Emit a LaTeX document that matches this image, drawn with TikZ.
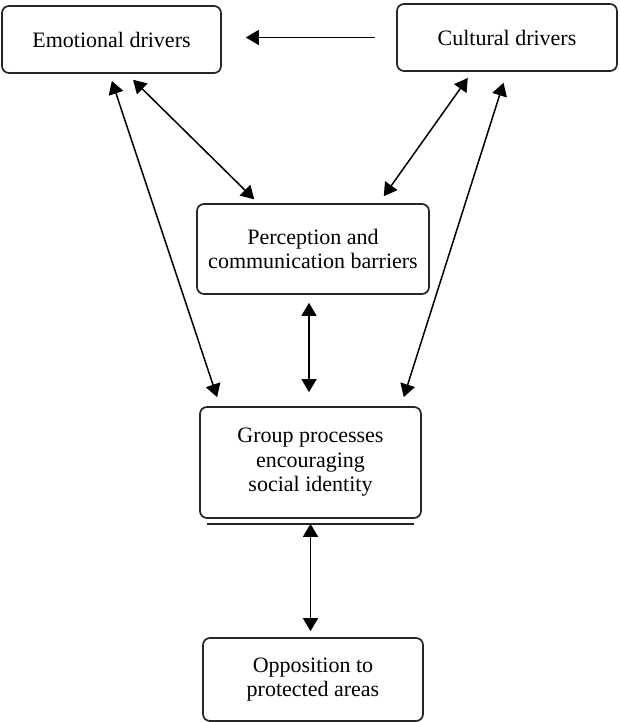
\documentclass[tikz,border=0pt]{standalone}
\usepackage{fontspec}
\setmainfont{Liberation Serif}
\usetikzlibrary{arrows.meta, calc}

\begin{document}
\begin{tikzpicture}[x=1pt, y=-1pt,
        box/.style={draw=black!85, line width=1.7pt, rounded corners=7pt, align=center,
            font=\fontsize{22}{24.5}\selectfont, inner sep=0pt},
        link/.style={line width=1.5pt, {Triangle[length=13pt, width=15pt]}-{Triangle[length=13pt, width=15pt]}},
        onelink/.style={line width=1.5pt, -{Triangle[length=13pt, width=15pt]}}
    ]
        \useasboundingbox (0,0) rectangle (619,722);

        % drivers
        \node [box, minimum width=219pt, minimum height=67pt] (emotional) at (111.5, 39.5) {Emotional drivers};
        \node [box, minimum width=220pt, minimum height=67pt] (cultural) at (507, 37.5) {Cultural drivers};

        % middle
        \node [box, minimum width=232pt, minimum height=90pt] (perception) at (313, 249) {Perception and\\communication barriers};
        \node [box, minimum width=221pt, minimum height=111pt] (group) at (310.5, 462.5) {Group processes\\encouraging\\social identity};
        \draw [line width=1.4pt, black!85] ([xshift=8pt, yshift=-5pt]group.south west) -- ([xshift=-8pt, yshift=-5pt]group.south east);

        % outcome
        \node [box, minimum width=220pt, minimum height=83pt] (opposition) at (313, 679.5) {Opposition to\\protected areas};

        % connectors
        \draw [onelink, shorten <=21pt, shorten >=24pt] (cultural.west) -- (cultural.west -| emotional.east);
        \draw [link, shorten <=7.5pt, shorten >=9.5pt] ([xshift=-2pt]emotional.south) -- ([xshift=21pt]group.north west);
        \draw [link, shorten <=8.5pt, shorten >=5.5pt] ([xshift=15.5pt]emotional.south) -- ([xshift=62pt]perception.north west);
        \draw [link, shorten <=7.5pt, shorten >=8.5pt] ([xshift=76pt]cultural.south west) -- ([xshift=-51pt]perception.north east);
        \draw [link, shorten <=11.5pt, shorten >=9.5pt] (cultural.south) -- ([xshift=-21pt]group.north east);
        \draw [link, shorten <=8pt, shorten >=14pt] ([xshift=-4pt]perception.south) -- ([xshift=-4pt]perception.south |- group.north);
        \draw [link, shorten <=5pt, shorten >=6pt] (group.south) -- (group.south |- opposition.north);
    \end{tikzpicture}
\end{document}
